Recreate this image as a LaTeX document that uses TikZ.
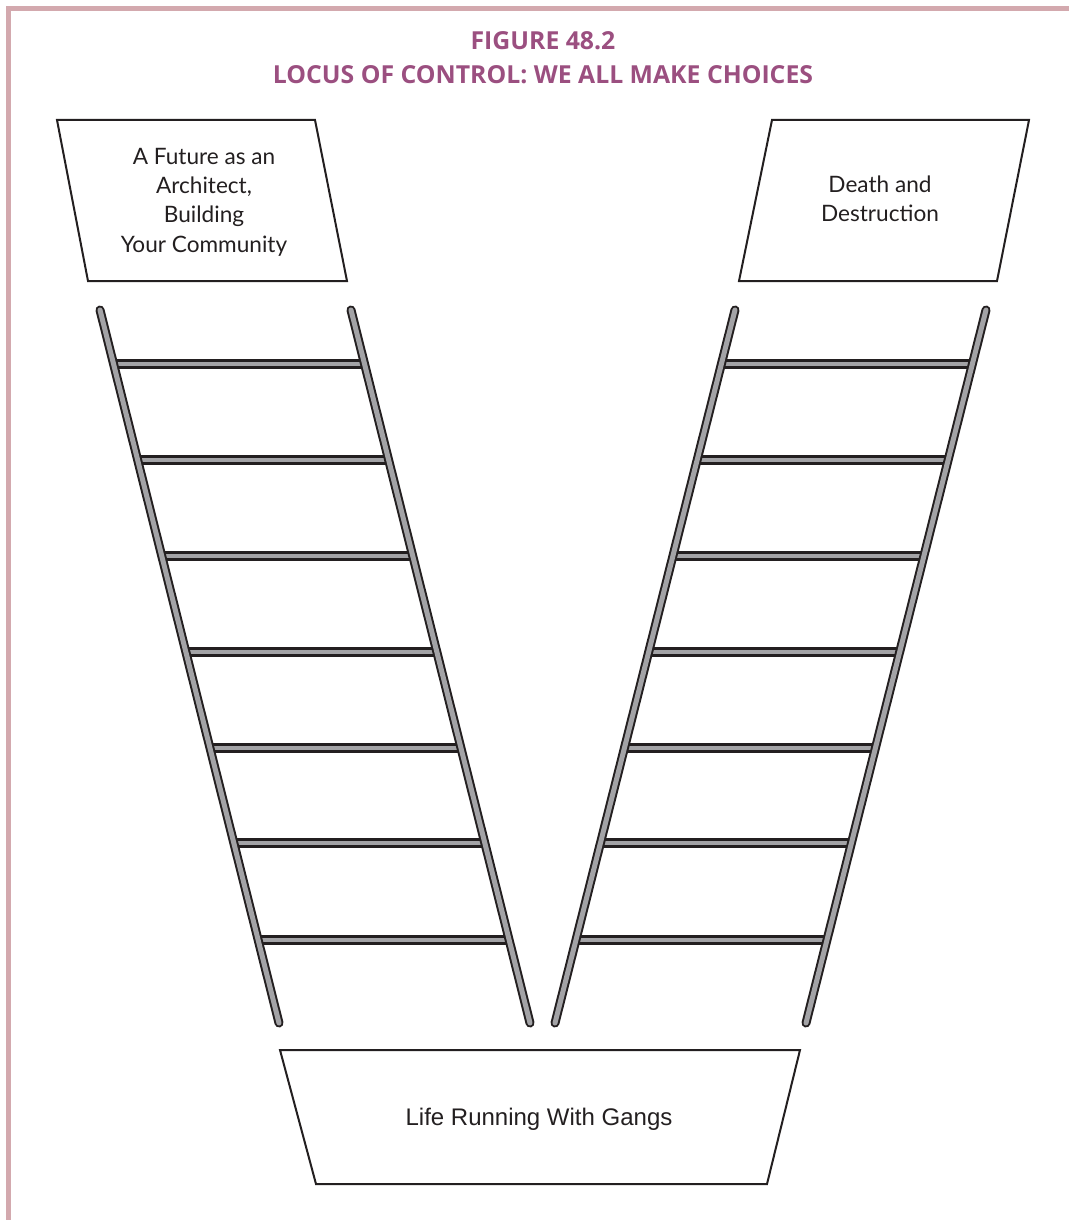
\documentclass[tikz,border=0pt]{standalone}
\usepackage{fontspec}
\setmainfont{Lato}
\newfontfamily\titlefont{Open Sans}
\newfontfamily\helv{Liberation Sans}
\usetikzlibrary{calc}
\definecolor{frame}{HTML}{D3A9AE}
\definecolor{titlec}{HTML}{9B4F80}
\definecolor{railgray}{HTML}{A3A3A6}
\definecolor{ink}{HTML}{231F20}
\tikzset{
  railout/.style={draw=ink, line width=4.5pt, line cap=round},
  railin/.style={draw=railgray, line width=2.5pt, line cap=round},
  rungout/.style={draw=ink, line width=4.8pt},
  rungin/.style={draw=railgray, line width=2pt},
  boxshape/.style={draw=ink, line width=1pt, line join=miter},
  boxtext/.style={align=center, font=\fontsize{11.3}{14.7}\selectfont, text=ink},
  titletext/.style={align=center, font=\titlefont\bfseries\fontsize{12.4}{17}\selectfont, text=titlec}
}
\begin{document}
\begin{tikzpicture}[x=0.5pt,y=-0.5pt]
\useasboundingbox (0,0) rectangle (1069,1220);
% frame
\draw[frame, line width=2.5pt] (8.5,1220) -- (8.5,8.5) -- (1069,8.5);
% title
\node[titletext] (title) at (543,58) {FIGURE 48.2\\LOCUS OF CONTROL: WE ALL MAKE CHOICES};
% boxes
\coordinate (la) at (57,120); \coordinate (lb) at (315,120);
\coordinate (lc) at (347,281); \coordinate (ld) at (88,281);
\draw[boxshape] (la) -- (lb) -- (lc) -- (ld) -- cycle;
\node[boxtext] (future) at (204,202) {A Future as an\\Architect,\\Building\\Your Community};
\coordinate (ra) at (772,120); \coordinate (rb) at (1029,120);
\coordinate (rc) at (997,281); \coordinate (rd) at (739,281);
\draw[boxshape] (ra) -- (rb) -- (rc) -- (rd) -- cycle;
\node[boxtext] (death) at (880,199) {Death and\\Destruction};
\coordinate (ba) at (280,1050); \coordinate (bb) at (800,1050);
\coordinate (bc) at (767,1184); \coordinate (bd) at (316,1184);
\draw[boxshape] (ba) -- (bb) -- (bc) -- (bd) -- cycle;
\node[boxtext, font=\helv\fontsize{12}{14}\selectfont] (life) at (539,1119) {Life Running With Gangs};
% ladder rails
\coordinate (L1t) at (100,310); \coordinate (L1b) at (279,1023);
\coordinate (L2t) at (351,310); \coordinate (L2b) at (530,1023);
\coordinate (R1t) at (735,310); \coordinate (R1b) at (555,1023);
\coordinate (R2t) at (986,310); \coordinate (R2b) at (806,1023);
% rungs
\foreach \yy in {364,460,556,652,748,843,940}{
  \pgfmathsetmacro{\t}{(\yy-310)/713}
  \draw[rungout] ($(L1t)!\t!(L1b)$) -- ($(L2t)!\t!(L2b)$);
  \draw[rungin] ($(L1t)!\t!(L1b)$) -- ($(L2t)!\t!(L2b)$);
  \draw[rungout] ($(R1t)!\t!(R1b)$) -- ($(R2t)!\t!(R2b)$);
  \draw[rungin] ($(R1t)!\t!(R1b)$) -- ($(R2t)!\t!(R2b)$);
}
\foreach \a/\b in {L1t/L1b, L2t/L2b, R1t/R1b, R2t/R2b}{
  \draw[railout] (\a) -- (\b);
  \draw[railin] (\a) -- (\b);
}
\end{tikzpicture}
\end{document}
